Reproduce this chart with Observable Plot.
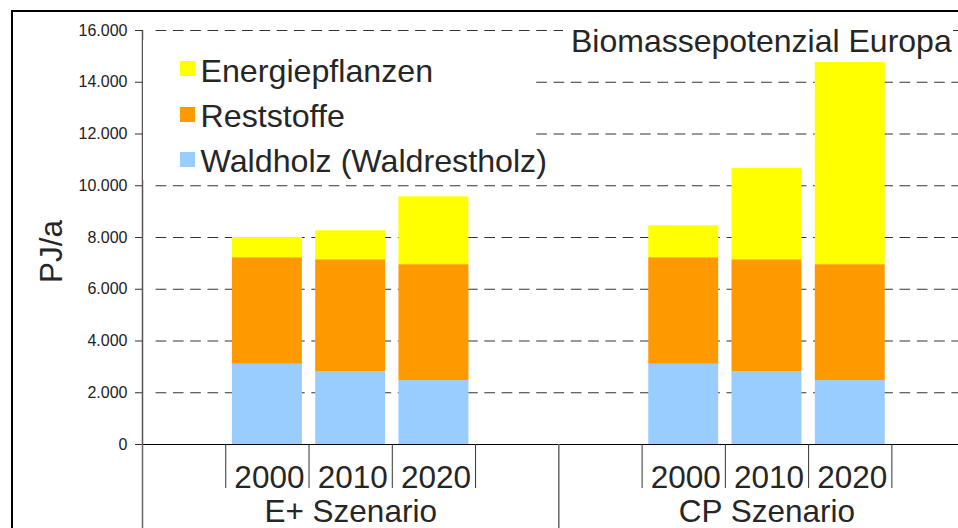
<!DOCTYPE html>
<html>
<head>
<meta charset="utf-8">
<script src="https://cdn.jsdelivr.net/npm/d3@7"></script>
<script src="https://cdn.jsdelivr.net/npm/@observablehq/plot@0.6"></script>
<style>
  html, body { margin: 0; padding: 0; background: #fff; }
  body { width: 958px; height: 528px; overflow: hidden; font-family: "Liberation Sans", Arial, sans-serif; color: #262626; }
  #wrap { position: relative; width: 958px; height: 528px; }
  #chart svg { display: block; }
  .frame { position: absolute; left: 11px; top: 10px; width: 1200px; height: 1000px; border: 2px solid #000; box-sizing: border-box; pointer-events: none; }
  .legend { position: absolute; left: 143px; top: 40px; width: 390px; height: 140px; background: #fff; }
  .legend .row { position: absolute; left: 37px; height: 45px; display: flex; align-items: center; font-size: 32.2px; line-height: 1; white-space: nowrap; }
  .legend .sw { width: 15px; height: 15px; margin-right: 5.5px; position: relative; top: -2px; }
  .title { position: absolute; left: 563px; top: 25px; padding-left: 8px; padding-right: 1px; background: #fff; font-size: 32px; line-height: 1; white-space: nowrap; }
</style>
</head>
<body>
<div id="wrap">
  <div id="chart"></div>
  <div class="frame"></div>
  <div class="legend" id="legend"></div>
  <div class="title" id="title"></div>
</div>
<script>
// ---- data ----
const chartTitle = "Biomassepotenzial Europa";
const yLabel = "PJ/a";
const scenarios = ["E+ Szenario", "CP Szenario"];
const years = ["2000", "2010", "2020"];
const seriesNames = ["Waldholz (Waldrestholz)", "Reststoffe", "Energiepflanzen"];
const seriesColors = ["#99ccff", "#ff9900", "#ffff00"];
// order: E+ 2000, 2010, 2020, CP 2000, 2010, 2020
const waldholz = [3100, 2820, 2470, 3100, 2820, 2470];
const reststoffe = [4120, 4320, 4480, 4120, 4320, 4480];
const energiepflanzen = [780, 1120, 2620, 1230, 3530, 7810];
const yTicks = [0, 2000, 4000, 6000, 8000, 10000, 12000, 14000, 16000];

// ---- build table ----
const slotsPerScenario = years.length + 2;
const seriesValues = [waldholz, reststoffe, energiepflanzen];
const rows = [];
const yearRows = [];
const boundaries = [];
scenarios.forEach((sc, s) => {
  years.forEach((yr, j) => {
    const i = s * years.length + j;
    const slot = s * slotsPerScenario + 1 + j;
    yearRows.push({scenario: sc, year: yr, slot});
    seriesNames.forEach((name, k) => rows.push({scenario: sc, year: yr, slot, series: name, value: seriesValues[k][i]}));
    boundaries.push(slot);
  });
  boundaries.push(s * slotsPerScenario + 1 + years.length);
});
const groupRows = scenarios.map((sc, s) => ({scenario: sc, center: s * slotsPerScenario + slotsPerScenario / 2}));
const separators = d3.range(scenarios.length + 1).map(s => s * slotsPerScenario);

const de = d3.formatLocale({decimal: ",", thousands: ".", grouping: [3], currency: ["", " €"]});
const fmt = de.format(",d");

const chart = Plot.plot({
  width: 958,
  height: 528,
  marginLeft: 142,
  marginRight: 0,
  marginTop: 30,
  marginBottom: 84,
  x: {domain: [0, 9.8], axis: null, label: null},
  y: {domain: [0, 16000], axis: null, label: null},
  color: {domain: seriesNames, range: seriesColors},
  style: {fontFamily: "'Liberation Sans', Arial, sans-serif", background: "transparent", color: "#262626", overflow: "visible"},
  marks: [
    Plot.ruleY(yTicks.filter(t => t > 0), {stroke: "#333", strokeDasharray: "10.7,6.6", strokeDashoffset: 10.7, insetLeft: 7}),
    Plot.rect(rows, Plot.stackY({
      x: "slot",
      x1: d => d.slot + 0.08,
      x2: d => d.slot + 0.92,
      y: "value",
      fill: "series",
      order: seriesNames
    })),
    Plot.ruleY([0], {stroke: "#000", strokeWidth: 1.2}),
    Plot.ruleX([0], {stroke: "#555", strokeWidth: 1.5}),
    Plot.axisY(yTicks, {tickSize: 7, tickPadding: 8, fontSize: 16, tickFormat: fmt, stroke: "#333", fill: "#222", label: null}),
    Plot.axisX(boundaries, {tickSize: 44, tickFormat: () => "", stroke: "#333", label: null}),
    Plot.axisX(separators, {tickSize: 84, tickFormat: () => "", stroke: "#666", strokeWidth: 1.5, label: null}),
    Plot.text(yearRows, {x: d => d.slot + 0.5, text: "year", frameAnchor: "bottom", lineAnchor: "bottom", dy: 43, dx: 2, fontSize: 31.5, fill: "#262626"}),
    Plot.text(groupRows, {x: "center", text: "scenario", frameAnchor: "bottom", lineAnchor: "bottom", dy: 77, fontSize: 31.5, fill: "#262626"}),
    Plot.text([yLabel], {text: d => d, frameAnchor: "left", textAnchor: "middle", dx: -91, dy: 14, rotate: -90, fontSize: 31.5, fill: "#262626"})
  ]
});
document.getElementById("chart").appendChild(chart);

// legend (top entry = top of stack)
const legend = document.getElementById("legend");
const order = seriesNames.map((n, k) => k).reverse();
order.forEach((k, r) => {
  const row = document.createElement("div");
  row.className = "row";
  row.style.top = (8.3 + r * 45.2) + "px";
  const sw = document.createElement("span");
  sw.className = "sw";
  sw.style.background = seriesColors[k];
  const tx = document.createElement("span");
  tx.textContent = seriesNames[k];
  row.appendChild(sw);
  row.appendChild(tx);
  legend.appendChild(row);
});
document.getElementById("title").textContent = chartTitle;
</script>
</body>
</html>
